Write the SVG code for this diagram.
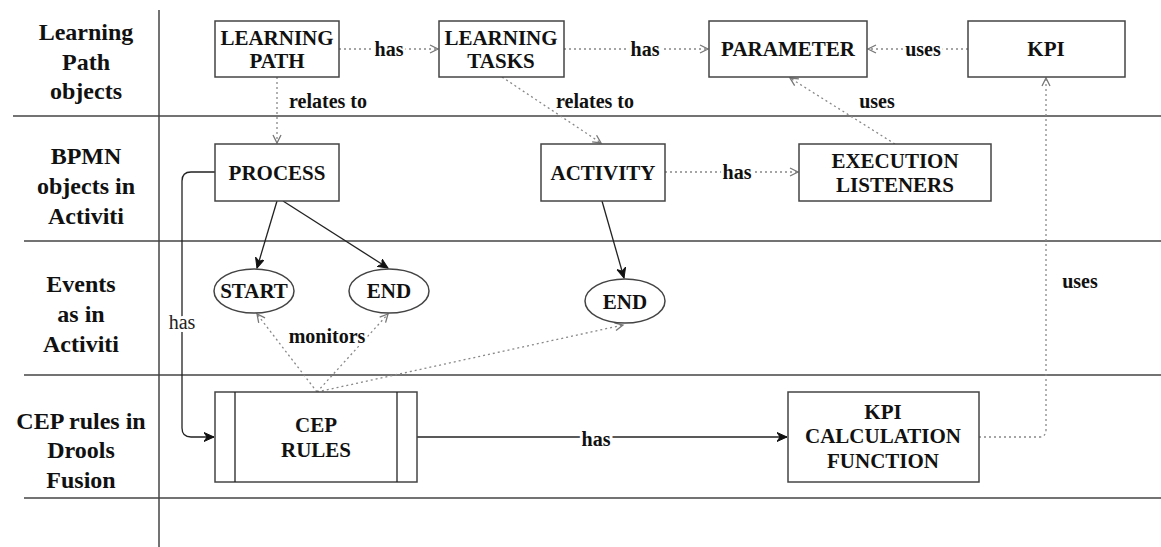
<svg xmlns="http://www.w3.org/2000/svg" width="1161" height="547" viewBox="0 0 1161 547">
<style>
.lane{stroke:#444;stroke-width:1.5;fill:none}
.box{fill:#fff;stroke:#444;stroke-width:1.5}
.dot{stroke:#888;stroke-width:1.3;stroke-dasharray:2 3;fill:none}
.sol{stroke:#222;stroke-width:1.3;fill:none}
</style>
<defs>
<marker id="open" markerUnits="userSpaceOnUse" markerWidth="12" markerHeight="12" refX="9" refY="5" orient="auto">
<path d="M1,1 L9,5 L1,9" fill="none" stroke="#777" stroke-width="1.3"/>
</marker>
<marker id="fill" markerUnits="userSpaceOnUse" markerWidth="12" markerHeight="12" refX="10" refY="5" orient="auto">
<path d="M0,0.5 L10,5 L0,9.5 L3,5 Z" fill="#111" stroke="#111" stroke-width="1"/>
</marker>
</defs>
<rect width="1161" height="547" fill="#fff"/>
<g id="lanes">
<line class="lane" x1="159" y1="10" x2="159" y2="547"/>
<line class="lane" x1="13" y1="116" x2="1161" y2="116"/>
<line class="lane" x1="24" y1="241" x2="1161" y2="241"/>
<line class="lane" x1="24" y1="375" x2="1161" y2="375"/>
<line class="lane" x1="24" y1="498" x2="1161" y2="498"/>
<text font-family="Times New Roman, Liberation Serif, serif" font-size="24" font-weight="bold" fill="#111" text-anchor="middle"><tspan x="86" y="40">Learning</tspan><tspan x="86" y="70">Path</tspan><tspan x="86" y="99">objects</tspan></text>
<text font-family="Times New Roman, Liberation Serif, serif" font-size="24" font-weight="bold" fill="#111" text-anchor="middle"><tspan x="86" y="164">BPMN</tspan><tspan x="86" y="194">objects in</tspan><tspan x="86" y="224">Activiti</tspan></text>
<text font-family="Times New Roman, Liberation Serif, serif" font-size="24" font-weight="bold" fill="#111" text-anchor="middle"><tspan x="81" y="292">Events</tspan><tspan x="81" y="322">as in</tspan><tspan x="81" y="352">Activiti</tspan></text>
<text font-family="Times New Roman, Liberation Serif, serif" font-size="24" font-weight="bold" fill="#111" text-anchor="middle"><tspan x="81" y="429">CEP rules in</tspan><tspan x="81" y="458">Drools</tspan><tspan x="81" y="488">Fusion</tspan></text>
</g>
<g id="connectors">
<line class="dot" x1="339" y1="49" x2="438" y2="49" marker-end="url(#open)"/>
<line class="dot" x1="564" y1="49" x2="708" y2="49" marker-end="url(#open)"/>
<line class="dot" x1="968" y1="49" x2="868" y2="49" marker-end="url(#open)"/>
<line class="dot" x1="277" y1="77" x2="277" y2="143" marker-end="url(#open)"/>
<line class="dot" x1="502" y1="77" x2="601" y2="143" marker-end="url(#open)"/>
<line class="dot" x1="665" y1="172" x2="798" y2="172" marker-end="url(#open)"/>
<line class="dot" x1="895" y1="144" x2="790" y2="78" marker-end="url(#open)"/>
<line class="sol" x1="277" y1="201" x2="257" y2="268" marker-end="url(#fill)"/>
<line class="sol" x1="283" y1="201" x2="388" y2="268" marker-end="url(#fill)"/>
<line class="sol" x1="602" y1="201" x2="624" y2="278" marker-end="url(#fill)"/>
<path class="sol" d="M215,172 L191,172 Q182,172 182,181 L182,428 Q182,437 191,437 L214,437" marker-end="url(#fill)"/>
<line class="dot" x1="317" y1="392" x2="257" y2="314" marker-end="url(#open)"/>
<line class="dot" x1="317" y1="392" x2="388" y2="314" marker-end="url(#open)"/>
<line class="dot" x1="317" y1="392" x2="623" y2="325" marker-end="url(#open)"/>
<line class="sol" x1="417" y1="437" x2="787" y2="437" marker-end="url(#fill)"/>
<path class="dot" d="M979,437 L1039,437 Q1046,437 1046,430 L1046,78" marker-end="url(#open)"/>
<g font-family="Times New Roman, Liberation Serif, serif" font-size="20" font-weight="bold" fill="#111" text-anchor="middle" stroke="#fff" stroke-width="6" stroke-linejoin="round" paint-order="stroke">
<text x="389" y="56">has</text>
<text x="645" y="56">has</text>
<text x="923" y="56">uses</text>
<text x="328" y="108">relates to</text>
<text x="595" y="108">relates to</text>
<text x="737" y="179">has</text>
<text x="877" y="108">uses</text>
<text x="327" y="343">monitors</text>
<text x="596" y="446">has</text>
<text x="1080" y="288">uses</text>
<text x="182" y="329" font-weight="normal" fill="#222">has</text>
</g>
</g>
<g id="n-learning-path"><rect class="box" x="215" y="21" width="124" height="56"/><text font-family="Times New Roman, Liberation Serif, serif" font-size="21" font-weight="bold" fill="#111" text-anchor="middle"><tspan x="277" y="45">LEARNING</tspan><tspan x="277" y="68">PATH</tspan></text></g>
<g id="n-learning-tasks"><rect class="box" x="439" y="21" width="125" height="56"/><text font-family="Times New Roman, Liberation Serif, serif" font-size="21" font-weight="bold" fill="#111" text-anchor="middle"><tspan x="501" y="45">LEARNING</tspan><tspan x="501" y="68">TASKS</tspan></text></g>
<g id="n-parameter"><rect class="box" x="709" y="21" width="158" height="56"/><text font-family="Times New Roman, Liberation Serif, serif" font-size="21" font-weight="bold" fill="#111" text-anchor="middle" x="788" y="56">PARAMETER</text></g>
<g id="n-kpi"><rect class="box" x="968" y="21" width="157" height="56"/><text font-family="Times New Roman, Liberation Serif, serif" font-size="21" font-weight="bold" fill="#111" text-anchor="middle" x="1046" y="56">KPI</text></g>
<g id="n-process"><rect class="box" x="215" y="144" width="124" height="57"/><text font-family="Times New Roman, Liberation Serif, serif" font-size="21" font-weight="bold" fill="#111" text-anchor="middle" x="277" y="180">PROCESS</text></g>
<g id="n-activity"><rect class="box" x="541" y="144" width="124" height="57"/><text font-family="Times New Roman, Liberation Serif, serif" font-size="21" font-weight="bold" fill="#111" text-anchor="middle" x="603" y="180">ACTIVITY</text></g>
<g id="n-exec"><rect class="box" x="799" y="144" width="192" height="57"/><text font-family="Times New Roman, Liberation Serif, serif" font-size="21" font-weight="bold" fill="#111" text-anchor="middle"><tspan x="895" y="168">EXECUTION</tspan><tspan x="895" y="192">LISTENERS</tspan></text></g>
<g id="n-start"><ellipse class="box" cx="254" cy="291" rx="40" ry="22"/><text font-family="Times New Roman, Liberation Serif, serif" font-size="21" font-weight="bold" fill="#111" text-anchor="middle" x="254" y="298">START</text></g>
<g id="n-end1"><ellipse class="box" cx="389" cy="291" rx="40" ry="22"/><text font-family="Times New Roman, Liberation Serif, serif" font-size="21" font-weight="bold" fill="#111" text-anchor="middle" x="389" y="298">END</text></g>
<g id="n-end2"><ellipse class="box" cx="625" cy="301" rx="40" ry="22"/><text font-family="Times New Roman, Liberation Serif, serif" font-size="21" font-weight="bold" fill="#111" text-anchor="middle" x="625" y="309">END</text></g>
<g id="n-cep"><rect class="box" x="215" y="392" width="202" height="90"/><line class="sol" x1="235" y1="392" x2="235" y2="482"/><line class="sol" x1="397" y1="392" x2="397" y2="482"/><text font-family="Times New Roman, Liberation Serif, serif" font-size="21" font-weight="bold" fill="#111" text-anchor="middle"><tspan x="316" y="432">CEP</tspan><tspan x="316" y="457">RULES</tspan></text></g>
<g id="n-kpicalc"><rect class="box" x="788" y="392" width="191" height="90"/><text font-family="Times New Roman, Liberation Serif, serif" font-size="21" font-weight="bold" fill="#111" text-anchor="middle"><tspan x="883" y="419">KPI</tspan><tspan x="883" y="443">CALCULATION</tspan><tspan x="883" y="468">FUNCTION</tspan></text></g>
</svg>
